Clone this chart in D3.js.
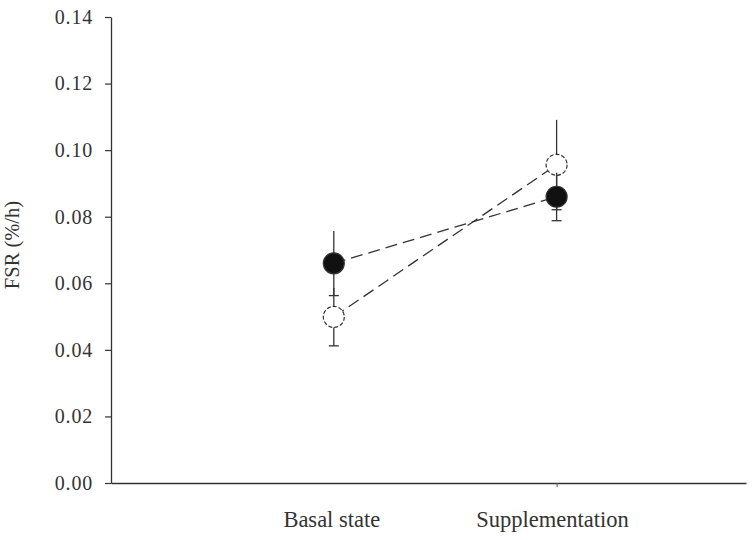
<!DOCTYPE html>
<html>
<head>
<meta charset="utf-8">
<script src="https://cdn.jsdelivr.net/npm/d3@7"></script>
<style>
  body { margin: 0; background: #fff; }
  text { font-family: "Liberation Serif", "DejaVu Serif", serif; fill: #333; }
</style>
</head>
<body>
<svg id="canvas" width="753" height="540"></svg>
<script>
// values
var categories = ["Basal state", "Supplementation"];
var filledMean = [0.066, 0.086];
var filledErr = [0.0097, 0.0072];
var openMean = [0.0499, 0.0956];
var openErr = [0.0087, 0.0135];
var yTicks = [0, 0.02, 0.04, 0.06, 0.08, 0.10, 0.12, 0.14];

var svg = d3.select("#canvas");

var x = d3.scaleLinear().domain([0, 2.85]).range([111, 746]);
var y = d3.scaleLinear().domain([0, 0.14]).range([483, 17]);

// axes
var yAxis = svg.append("g")
  .attr("transform", "translate(111,0)")
  .call(d3.axisLeft(y).tickValues(yTicks).tickFormat(d3.format(".2f")).tickSize(6).tickSizeOuter(0));
yAxis.select(".domain").attr("stroke", "#333").attr("stroke-width", 1.3);
yAxis.selectAll(".tick line").attr("stroke", "#333").attr("stroke-width", 1.2);
yAxis.selectAll(".tick text")
  .attr("x", -18)
  .style("font-family", '"Liberation Serif", serif')
  .style("font-size", "20px")
  .style("letter-spacing", "0.8px")
  .attr("fill", "#333");

var xAxis = svg.append("g")
  .attr("transform", "translate(0,483)")
  .call(d3.axisBottom(x).tickValues([2]).tickFormat("").tickSize(4).tickSizeOuter(0));
xAxis.select(".domain").attr("stroke", "#333").attr("stroke-width", 1.3);
xAxis.selectAll(".tick line").attr("stroke", "#555");

// category labels
svg.selectAll(".cat")
  .data(categories)
  .enter()
  .append("text")
  .attr("class", "cat")
  .attr("x", function(d, i) { return x(i + 1) - (i == 1 ? 4 : 2); })
  .attr("y", 527)
  .attr("text-anchor", "middle")
  .style("font-size", "22.5px")
  .text(function(d) { return d; });

// y label
svg.append("text")
  .attr("transform", "translate(19,245) rotate(-90)")
  .attr("text-anchor", "middle")
  .style("font-size", "20.5px")
  .text("FSR (%/h)");

function drawSeries(means, errs) {
  var pts = means.map(function(m, i) { return { i: i + 1, m: m, e: errs[i] }; });

  var line = d3.line()
    .x(function(d) { return x(d.i); })
    .y(function(d) { return y(d.m); });

  svg.append("path")
    .datum(pts)
    .attr("d", line)
    .attr("fill", "none")
    .attr("stroke", "#333")
    .attr("stroke-width", 1.3)
    .attr("stroke-dasharray", "12,6");

  var g = svg.append("g");
  // error bars, cap only on the lower end (upper caps lost in the scan)
  g.selectAll(".err")
    .data(pts)
    .enter()
    .append("line")
    .attr("x1", function(d) { return x(d.i); })
    .attr("x2", function(d) { return x(d.i); })
    .attr("y1", function(d) { return y(d.m - d.e); })
    .attr("y2", function(d) { return y(d.m + d.e); })
    .attr("stroke", "#333")
    .attr("stroke-width", 1.3);
  g.selectAll(".cap")
    .data(pts)
    .enter()
    .append("line")
    .attr("x1", function(d) { return x(d.i) - 5; })
    .attr("x2", function(d) { return x(d.i) + 5; })
    .attr("y1", function(d) { return y(d.m - d.e); })
    .attr("y2", function(d) { return y(d.m - d.e); })
    .attr("stroke", "#333")
    .attr("stroke-width", 1.3);

  return g;
}

var openG = drawSeries(openMean, openErr);
var filledG = drawSeries(filledMean, filledErr);

function drawDots(g, means, filled) {
  g.selectAll(".dot")
    .data(means)
    .enter()
    .append("circle")
    .attr("cx", function(d, i) { return x(i + 1); })
    .attr("cy", function(d) { return y(d); })
    .attr("r", 10.5)
    .attr("fill", filled ? "#111" : "#fff")
    .attr("stroke", "#333")
    .attr("stroke-width", 1.2)
    .attr("stroke-dasharray", filled ? null : "4,2");
}
drawDots(openG, openMean, false);
drawDots(filledG, filledMean, true);
</script>
</body>
</html>
